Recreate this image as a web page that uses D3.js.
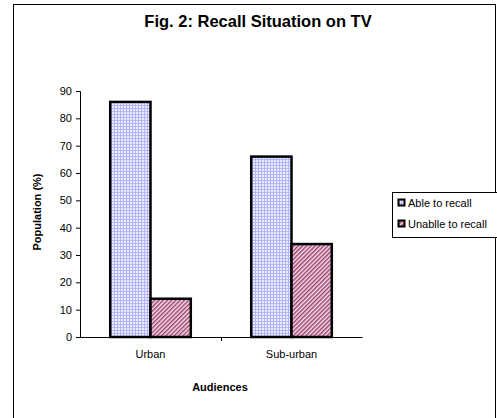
<!DOCTYPE html>
<html>
<head>
<meta charset="utf-8">
<script src="https://cdn.jsdelivr.net/npm/d3@7"></script>
<style>
  body { margin: 0; background: #fff; }
  text { font-family: Arial, 'Liberation Sans', sans-serif; }
</style>
</head>
<body>
<div id="chart"></div>
<script>
const WIDTH  = 497;
const HEIGHT = 418;

const categories = ['Urban', 'Sub-urban'];
const series     = ['Able to recall', 'Unablle to recall'];
const able       = [86, 66];
const unable     = [14, 34];
const yTicks     = [0, 10, 20, 30, 40, 50, 60, 70, 80, 90];

const PLOT = { left: 80, right: 362, top: 91, bottom: 337 };

const svg = d3.select('#chart').append('svg')
  .attr('width', WIDTH)
  .attr('height', HEIGHT);

// Patterns
const defs = svg.append('defs');
let grid = defs.append('pattern')
  .attr('id', 'grid')
  .attr('patternUnits', 'userSpaceOnUse')
  .attr('width', 3)
  .attr('height', 3);
grid.append('rect').attr('width', 3).attr('height', 3).style('fill', '#ececff');
grid.append('rect').attr('width', 3).attr('height', 1).style('fill', '#b4b4fa');
grid.append('rect').attr('width', 1).attr('height', 3).style('fill', '#b4b4fa');

let hatch = defs.append('pattern')
  .attr('id', 'hatch')
  .attr('patternUnits', 'userSpaceOnUse')
  .attr('width', 3)
  .attr('height', 3)
  .attr('patternTransform', 'rotate(45)');
hatch.append('rect').attr('width', 3).attr('height', 3).style('fill', '#f4e4ee');
hatch.append('rect').attr('width', 1.5).attr('height', 3).style('fill', '#a0406a');

const FILLS = ['url(#grid)', 'url(#hatch)'];

// Outer frame
svg.append('rect')
  .attr('x', 13.5)
  .attr('y', 4.5)
  .attr('width', 482)
  .attr('height', 440)
  .style('fill', 'none')
  .style('stroke', '#000')
  .style('stroke-width', 1);

// Title
svg.append('text')
  .attr('x', 258)
  .attr('y', 27)
  .attr('text-anchor', 'middle')
  .attr('font-size', 16.5)
  .attr('font-weight', 'bold')
  .text('Fig. 2: Recall Situation on TV');

// Scales
var x0 = d3.scaleBand()
  .domain(categories)
  .range([PLOT.left, PLOT.right]);
var x1 = d3.scaleBand()
  .domain(series)
  .range([0, x0.bandwidth()])
  .paddingOuter(0.75)
  .paddingInner(0);
var y = d3.scaleLinear()
  .domain([0, 90])
  .range([PLOT.bottom, PLOT.top]);

// Y axis
let yAxis = svg.append('g')
  .attr('transform', `translate(${PLOT.left},0)`)
  .call(d3.axisLeft(y).tickValues(yTicks).tickSize(4).tickPadding(4));
yAxis.select('.domain').style('stroke', '#000');
yAxis.selectAll('text').attr('font-size', 11).style('fill', '#000')
  .attr('font-family', 'Arial, Liberation Sans, sans-serif');

// X axis
let xAxis = svg.append('g')
  .attr('transform', `translate(0,${PLOT.bottom})`)
  .call(d3.axisBottom(x0).tickSize(0).tickPadding(0));
xAxis.select('.domain').style('stroke', '#000');
xAxis.selectAll('text')
  .attr('font-size', 11)
  .attr('y', 13)
  .style('fill', '#000')
  .attr('font-family', 'Arial, Liberation Sans, sans-serif');
xAxis.selectAll('.tick line').remove();
// Category separator ticks
xAxis.selectAll('.sep')
    .data(categories.slice(1))
  .enter().append('line')
    .attr('x1', d => x0(d) + 0.5)
    .attr('x2', d => x0(d) + 0.5)
    .attr('y1', 0)
    .attr('y2', 4)
    .style('stroke', '#000');

// Bars
const values = [able, unable];
series.forEach((s, si) => {
  svg.selectAll(`.bar${si}`)
      .data(categories)
    .enter().append('rect')
      .attr('x', d => x0(d) + x1(s))
      .attr('y', (d, i) => y(values[si][i]))
      .attr('width', x1.bandwidth())
      .attr('height', (d, i) => y(0) - y(values[si][i]))
      .style('fill', FILLS[si])
      .style('stroke', '#000')
      .style('stroke-width', 2.5);
});

// Axis titles
svg.append('text')
  .attr('x', (PLOT.left + PLOT.right) / 2 - 1)
  .attr('y', 391)
  .attr('text-anchor', 'middle')
  .attr('font-size', 11)
  .attr('font-weight', 'bold')
  .text('Audiences');

svg.append('text')
  .attr('transform', 'translate(41,212) rotate(-90)')
  .attr('text-anchor', 'middle')
  .attr('font-size', 11)
  .attr('font-weight', 'bold')
  .text('Population (%)');

// Legend
let legend = svg.append('g').attr('transform', 'translate(392,192)');
legend.append('rect')
  .attr('x', 0.5)
  .attr('y', 0.5)
  .attr('width', 120)
  .attr('height', 45)
  .style('fill', '#fff')
  .style('stroke', '#000')
  .style('stroke-width', 1);
legend.selectAll('.entry')
    .data(series)
  .enter().append('g')
    .attr('transform', (d, i) => `translate(6,${11 + i * 21})`)
  .each(function(d, i) {
    d3.select(this).append('rect')
      .attr('x', 0.5)
      .attr('y', -3.5)
      .attr('width', 6)
      .attr('height', 6)
      .style('fill', FILLS[i])
      .style('stroke', '#000')
      .style('stroke-width', 2);
    d3.select(this).append('text')
      .attr('x', 10)
      .attr('y', 4)
      .attr('font-size', 11)
      .text(d);
  });
</script>
</body>
</html>
